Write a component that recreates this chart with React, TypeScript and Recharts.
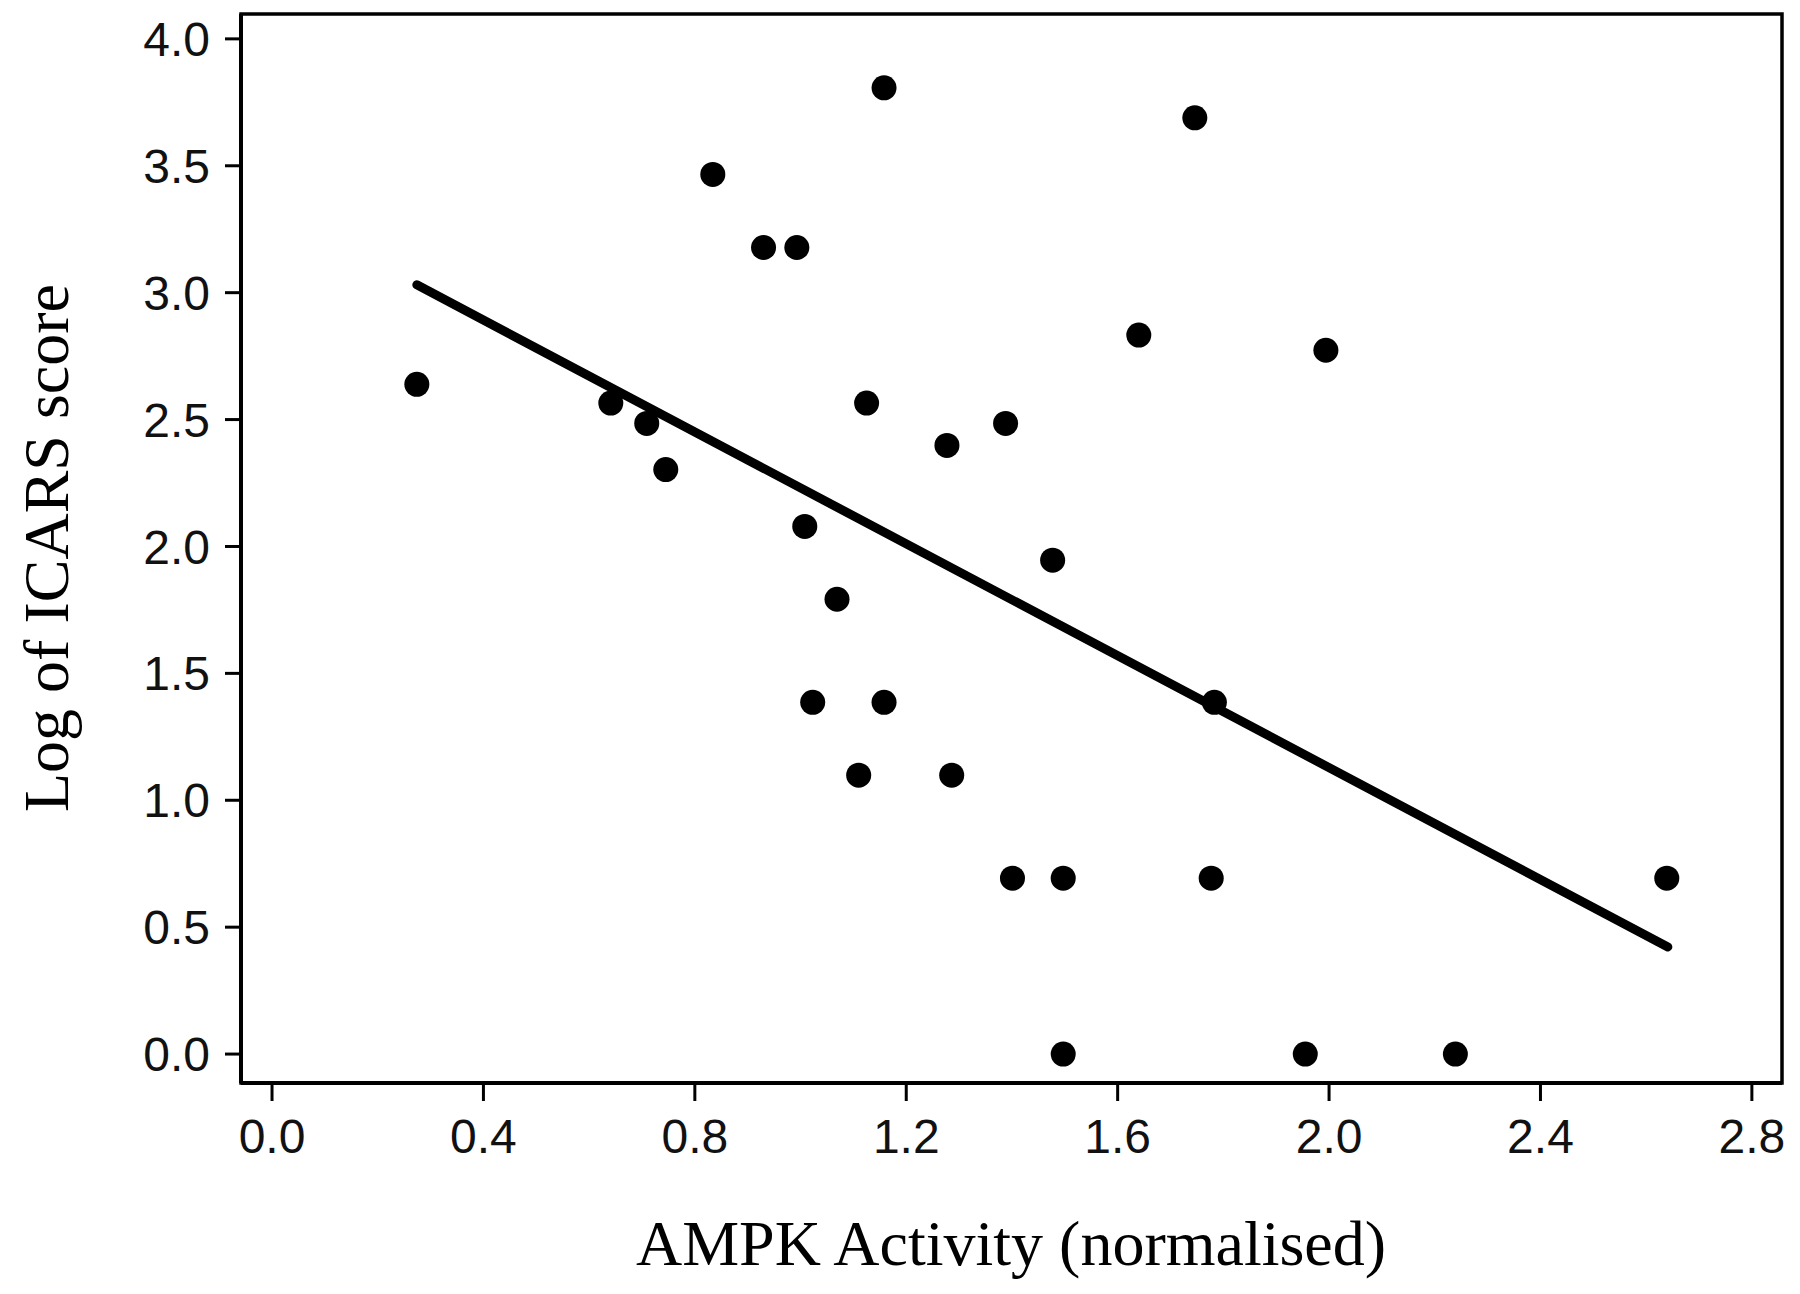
import { ScatterChart, Scatter, XAxis, YAxis, ReferenceArea, Label } from 'recharts'

// AMPK activity (normalised) for each patient
const ampk = [
  0.274, 0.641, 0.709, 0.745, 0.834, 0.93, 0.993, 1.008, 1.023, 1.069,
  1.11, 1.125, 1.158, 1.158, 1.277, 1.286, 1.388, 1.401, 1.477, 1.497,
  1.497, 1.64, 1.746, 1.777, 1.783, 1.955, 1.994, 2.239, 2.639,
]

// log of ICARS score, same order
const logIcars = [
  2.639, 2.565, 2.485, 2.303, 3.466, 3.178, 3.178, 2.079, 1.386, 1.792,
  1.099, 2.565, 3.807, 1.386, 2.398, 1.099, 2.485, 0.693, 1.946, 0.693,
  0, 2.833, 3.689, 0.693, 1.386, 0, 2.773, 0, 0.693,
]

// regression line end points
const fitX = [0.274, 2.641]
const fitY = [3.031, 0.422]

const xTicks = [0, 0.4, 0.8, 1.2, 1.6, 2.0, 2.4, 2.8]
const yTicks = [0, 0.5, 1.0, 1.5, 2.0, 2.5, 3.0, 3.5, 4.0]

const xDomain = [-0.0587, 2.857]
const yDomain = [-0.114, 4.098]

const points = ampk.map((x, i) => ({ x, y: logIcars[i] }))
const fit = fitX.map((x, i) => ({ x, y: fitY[i] }))

const tickStyle = { fontFamily: 'Liberation Sans', fontSize: 48, fill: '#111' }
const titleStyle = { fontFamily: 'Liberation Serif', fontSize: 64, fill: '#000' }

const Dot = (props: any) => <circle cx={props.cx} cy={props.cy} r={12.5} fill="#000" />
const NoDot = () => <g />

export default function App() {
  return (
    <div style={{ position: 'absolute', left: 0, top: 0, background: '#fff' }}>
      <ScatterChart width={1800} height={1294} margin={{ top: 14, right: 18, left: 0, bottom: 0 }}>
        <ReferenceArea
          x1={xDomain[0]}
          x2={xDomain[1]}
          y1={yDomain[0]}
          y2={yDomain[1]}
          fill="none"
          stroke="#000"
          strokeWidth={3.5}
          ifOverflow="visible"
        />
        <XAxis
          type="number"
          dataKey="x"
          domain={xDomain}
          ticks={xTicks}
          allowDataOverflow
          height={211}
          tickFormatter={(v: number) => v.toFixed(1)}
          tick={tickStyle}
          tickSize={18}
          tickMargin={18}
          axisLine={{ stroke: '#000', strokeWidth: 4 }}
          tickLine={{ stroke: '#000', strokeWidth: 3 }}
        >
          <Label
            content={() => (
              <text x={1011} y={1243} textAnchor="middle" dominantBaseline="central" style={titleStyle}>
                AMPK Activity (normalised)
              </text>
            )}
          />
        </XAxis>
        <YAxis
          type="number"
          dataKey="y"
          domain={yDomain}
          ticks={yTicks}
          allowDataOverflow
          width={241}
          tickFormatter={(v: number) => v.toFixed(1)}
          tick={tickStyle}
          tickSize={16}
          tickMargin={15}
          axisLine={{ stroke: '#000', strokeWidth: 4 }}
          tickLine={{ stroke: '#000', strokeWidth: 3 }}
        >
          <Label
            content={() => (
              <text
                x={46}
                y={548}
                transform="rotate(-90 46 548)"
                textAnchor="middle"
                dominantBaseline="central"
                style={titleStyle}
              >
                Log of ICARS score
              </text>
            )}
          />
        </YAxis>
        <Scatter
          data={fit}
          line={{ stroke: '#000', strokeWidth: 9, strokeLinecap: 'round' }}
          shape={NoDot}
          isAnimationActive={false}
        />
        <Scatter data={points} shape={Dot} isAnimationActive={false} />
      </ScatterChart>
    </div>
  )
}
